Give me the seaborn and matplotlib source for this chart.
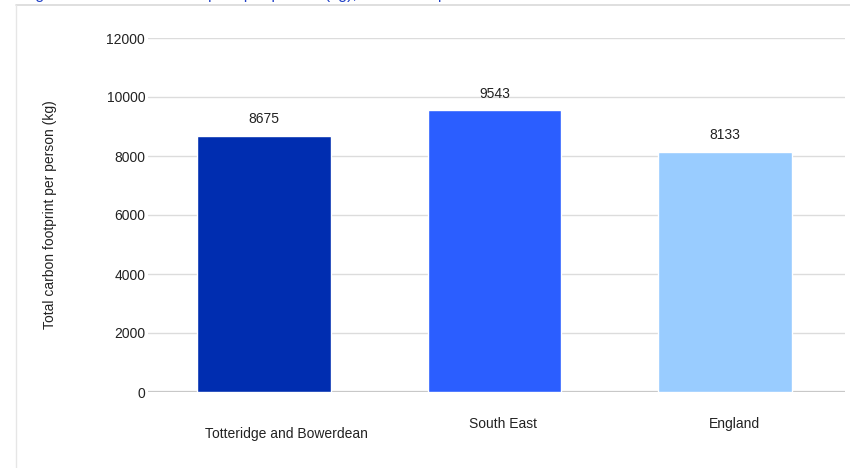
import matplotlib
matplotlib.use("Agg")
import matplotlib.pyplot as plt
import matplotlib.transforms as mtransforms
from matplotlib.lines import Line2D
import pandas as pd
import seaborn as sns

# Dados do gráfico
regions = ["Totteridge and Bowerdean", "South East", "England"]
footprint = [8675, 9543, 8133]
bar_colors = ["#002db0", "#2b5eff", "#99ccff"]
y_ticks = [0, 2000, 4000, 6000, 8000, 10000, 12000]

df = pd.DataFrame({"region": regions, "footprint": footprint})

sns.set_style("white")
plt.rcParams["font.family"] = ["Liberation Sans", "DejaVu Sans"]
plt.rcParams["text.color"] = "#222222"

fig = plt.figure(figsize=(8.5, 4.68), dpi=100)
ax = fig.add_axes([148 / 850, 1 - 392 / 468, 697 / 850, 354 / 468])

# grade horizontal
for t in y_ticks:
    ax.axhline(t, color="#dcdcdc" if t else "#c8c8c8", lw=1.0 if t else 1.6, zorder=0)

sns.barplot(data=df, x="region", y="footprint", hue="region", palette=bar_colors,
            width=0.58, legend=False, ax=ax, saturation=1, zorder=2)

for i, v in enumerate(footprint):
    ax.annotate(str(v), (i, v), xytext=(0, 7), textcoords="offset points",
                ha="center", va="bottom", fontsize=10, color="#222222")

ax.set_xlim(-0.503, 2.52)
ax.set_ylim(0, 12000)
ax.set_yticks(y_ticks)
ax.set_yticklabels([str(t) for t in y_ticks], fontsize=10, color="#222222")
ax.tick_params(axis="y", length=0, pad=2)
ax.tick_params(axis="x", length=0, pad=18, labelsize=10, labelcolor="#222222")
ax.xaxis.get_major_ticks()[0].set_pad(25)
ax.set_xlabel("")
ax.set_ylabel("Total carbon footprint per person (kg)", fontsize=10, color="#222222", labelpad=0)
ax.yaxis.set_label_coords(-(148 - 57) / 697, 0.5)
for s in ax.spines.values():
    s.set_visible(False)

# deslocamento dos rótulos das categorias (como no original)
shifts = [22, 8, 9]
for lab, dx in zip(ax.get_xticklabels(), shifts):
    lab.set_transform(lab.get_transform() + mtransforms.ScaledTranslation(dx / 100, 0, fig.dpi_scale_trans))

# moldura do painel e título cortado no topo (como na referência)
fig.add_artist(Line2D([16 / 850, 1], [1 - 5 / 468] * 2, color="#d9d9d9", lw=1.2, transform=fig.transFigure))
fig.add_artist(Line2D([16 / 850] * 2, [0, 1 - 5 / 468], color="#e6e6e6", lw=1.0, transform=fig.transFigure))
fig.text(22 / 850, 1 + 0.5 / 468, "Figure 1: Total carbon footprint per person (kg), all consumption",
         fontsize=11.5, color="#1f3fc6", va="baseline", ha="left")

fig.savefig("out.png", dpi=100)
